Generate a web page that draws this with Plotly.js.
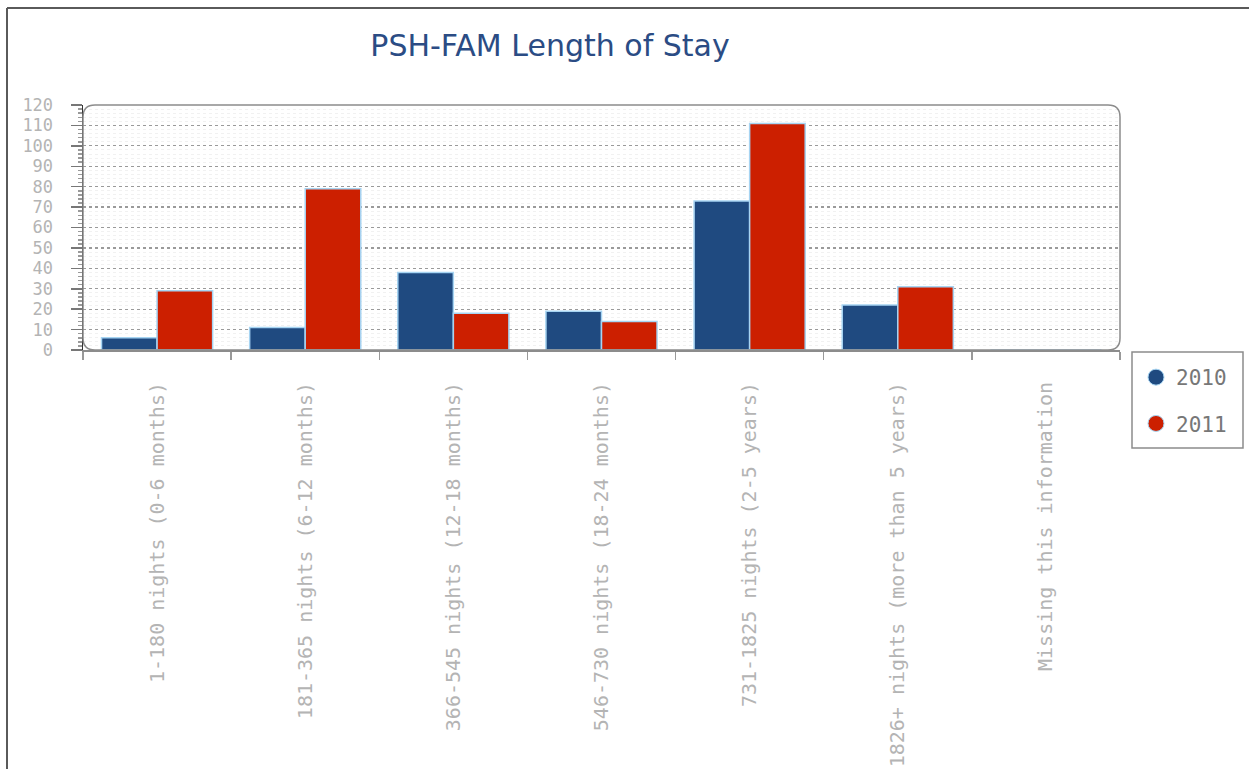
<!DOCTYPE html>
<html>
<head>
<meta charset="utf-8">
<script src="https://cdn.plot.ly/plotly-3.0.1.min.js"></script>
<style>html,body{margin:0;padding:0;background:#fff;}#chart{width:1249px;height:769px;}</style>
</head>
<body>
<div id="chart"></div>
<script>
var categories = [
  "1-180 nights (0-6 months)",
  "181-365 nights (6-12 months)",
  "366-545 nights (12-18 months)",
  "546-730 nights (18-24 months)",
  "731-1825 nights (2-5 years)",
  "1826+ nights (more than 5 years)",
  "Missing this information"
];
var values2010 = [6, 11, 38, 19, 73, 22, 0];
var values2011 = [29, 79, 18, 14, 111, 31, 0];
var seriesNames = ["2010", "2011"];
var seriesColors = ["#1f4a80", "#cc1f00"];

var W = 1249, H = 769, L = 83, R = 129, T = 105, B = 419;
var pw = W - L - R, ph = H - T - B;
function px(x) { return (x - L) / pw; }
function py(y) { return (H - B - y) / ph; }

var barLine = {color: "#a6d4f2", width: 1.5};
var traces = [
  {type: "bar", x: categories, y: values2010, name: seriesNames[0], showlegend: false,
   marker: {color: seriesColors[0], line: barLine}, hoverinfo: "x+y+name"},
  {type: "bar", x: categories, y: values2011, name: seriesNames[1], showlegend: false,
   marker: {color: seriesColors[1], line: barLine}, hoverinfo: "x+y+name"},
  {type: "scatter", mode: "markers", x: [categories[0]], y: [null], name: seriesNames[0],
   legendgroup: "a", marker: {color: seriesColors[0], size: 18, symbol: "circle", line: {color: "#a6d4f2", width: 1}}},
  {type: "scatter", mode: "markers", x: [categories[0]], y: [null], name: seriesNames[1],
   legendgroup: "b", marker: {color: seriesColors[1], size: 18, symbol: "circle", line: {color: "#a6d4f2", width: 1}}}
];

var rx = 12 / pw, ry = 12 / ph;
var roundPath = "M " + rx + ",0 L " + (1 - rx) + ",0 Q 1,0 1," + ry +
  " L 1," + (1 - ry) + " Q 1,1 " + (1 - rx) + ",1 L " + rx + ",1 Q 0,1 0," + (1 - ry) +
  " L 0," + ry + " Q 0,0 " + rx + ",0 Z";

var layout = {
  width: W, height: H,
  margin: {l: L, r: R, t: T, b: B, pad: 0},
  paper_bgcolor: "#ffffff",
  plot_bgcolor: "#ffffff",
  font: {family: "DejaVu Sans Mono, monospace", color: "#b4b4b4"},
  title: {
    text: "PSH-FAM Length of Stay",
    font: {family: "DejaVu Sans, sans-serif", size: 30, color: "#2b4c84"},
    x: px(550), xref: "paper", xanchor: "center",
    y: 1 - 45 / H, yref: "container", yanchor: "middle"
  },
  barmode: "group",
  bargap: 0.25,
  bargroupgap: 0,
  xaxis: {
    type: "category",
    tickangle: -90,
    tickfont: {size: 20, color: "#b4b4b4", family: "DejaVu Sans Mono, monospace"},
    ticks: "outside", tickson: "boundaries", ticklen: 8, tickcolor: "#999", tickwidth: 1.5,
    ticklabelstandoff: 22,
    showline: true, linecolor: "#8c8c8c", linewidth: 2,
    showgrid: false, zeroline: false, fixedrange: true
  },
  yaxis: {
    range: [0, 120],
    dtick: 10, tick0: 0,
    tickfont: {size: 17, color: "#b4b4b4", family: "DejaVu Sans Mono, monospace"},
    ticks: "outside", ticklen: 11, tickcolor: "#777", tickwidth: 1.5,
    ticklabelstandoff: 14,
    showline: true, linecolor: "#333", linewidth: 1.5,
    showgrid: true, gridcolor: "#9a9a9a", griddash: "dot", gridwidth: 1.2,
    minor: {dtick: 2, ticks: "outside", ticklen: 4, tickcolor: "#999", showgrid: true, gridcolor: "#f1f1f1", gridwidth: 1},
    zeroline: false, fixedrange: true
  },
  legend: {
    x: px(1136), xanchor: "left",
    y: py(357), yanchor: "top",
    borderwidth: 0,
    bgcolor: "rgba(0,0,0,0)",
    font: {size: 21, color: "#777", family: "DejaVu Sans Mono, monospace"},
    traceorder: "grouped", tracegroupgap: 16,
    itemwidth: 30
  },
  shapes: [
    {type: "path", xref: "paper", yref: "paper", path: roundPath,
     line: {color: "#8c8c8c", width: 1.5}, fillcolor: "rgba(0,0,0,0)", layer: "above"},
    {type: "rect", xref: "paper", yref: "paper", x0: px(1132), x1: px(1243), y0: py(352), y1: py(448),
     line: {color: "#8c8c8c", width: 1.5}, fillcolor: "rgba(0,0,0,0)"},
    {type: "line", xref: "paper", yref: "paper", x0: px(7), x1: px(1249), y0: py(8), y1: py(8),
     line: {color: "#5a5a5a", width: 2}},
    {type: "line", xref: "paper", yref: "paper", x0: px(7), x1: px(7), y0: py(8), y1: py(769),
     line: {color: "#5a5a5a", width: 2}}
  ],
  showlegend: true
};

Plotly.newPlot("chart", traces, layout, {displayModeBar: false, staticPlot: true});
</script>
</body>
</html>
